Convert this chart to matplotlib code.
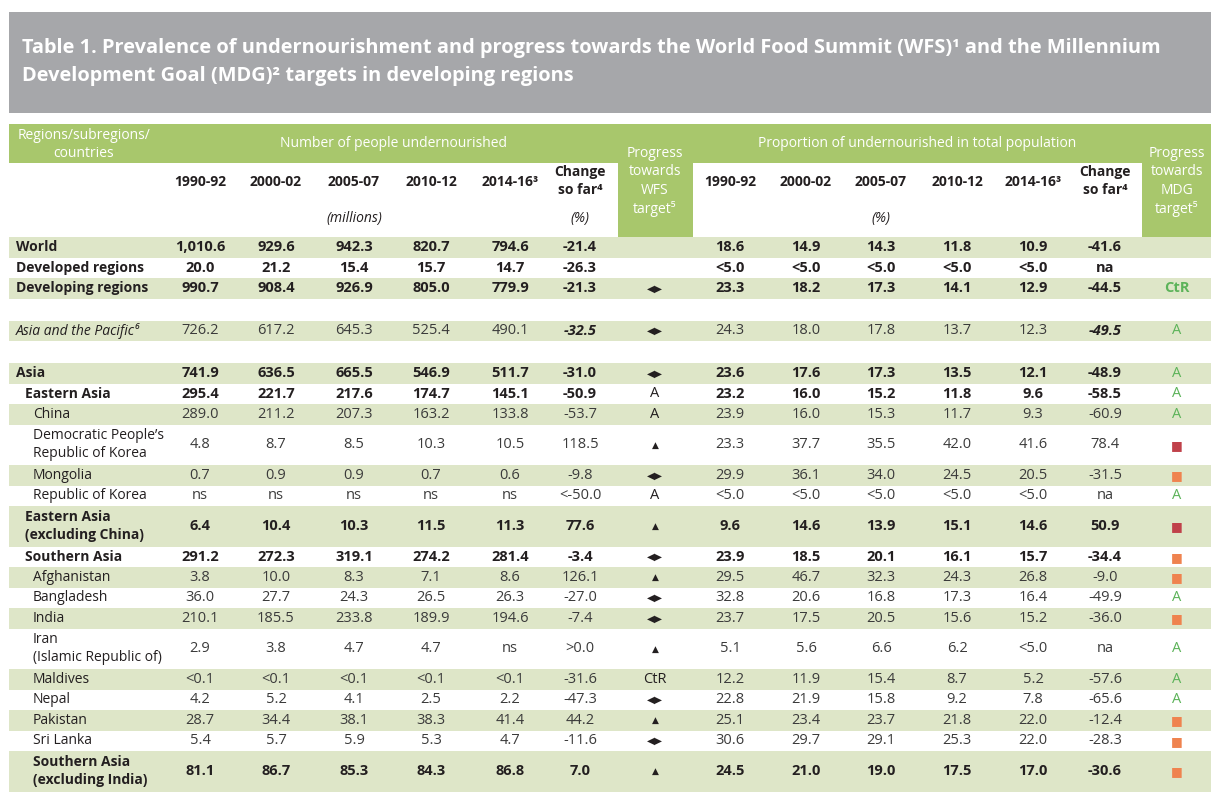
import matplotlib
matplotlib.use('Agg')
import matplotlib.pyplot as plt
from matplotlib.patches import Rectangle

plt.rcParams['font.family'] = ['Open Sans', 'DejaVu Sans']

# ---- data ----
title_lines = ["Table 1. Prevalence of undernourishment and progress towards the World Food Summit (WFS)\u00b9 and the Millennium",
               "Development Goal (MDG)\u00b2 targets in developing regions"]

periods = ["1990-92", "2000-02", "2005-07", "2010-12", "2014-16\u00b3"]

labels = ["World", "Developed regions", "Developing regions", "",
          "Asia and the Pacific\u2076", "",
          "Asia", "Eastern Asia", "China", "Democratic People\u2019s\nRepublic of Korea",
          "Mongolia", "Republic of Korea", "Eastern Asia\n(excluding China)",
          "Southern Asia", "Afghanistan", "Bangladesh", "India",
          "Iran\n(Islamic Republic of)", "Maldives", "Nepal", "Pakistan", "Sri Lanka",
          "Southern Asia\n(excluding India)"]
indent = [0, 0, 0, 0, 0, 0, 0, 1, 2, 2, 2, 2, 1, 1, 2, 2, 2, 2, 2, 2, 2, 2, 2]
bold = [1, 1, 1, 0, 0, 0, 1, 1, 0, 0, 0, 0, 1, 1, 0, 0, 0, 0, 0, 0, 0, 0, 1]

num_9092 = ["1,010.6", "20.0", "990.7", "", "726.2", "", "741.9", "295.4", "289.0", "4.8", "0.7", "ns", "6.4",
            "291.2", "3.8", "36.0", "210.1", "2.9", "<0.1", "4.2", "28.7", "5.4", "81.1"]
num_0002 = ["929.6", "21.2", "908.4", "", "617.2", "", "636.5", "221.7", "211.2", "8.7", "0.9", "ns", "10.4",
            "272.3", "10.0", "27.7", "185.5", "3.8", "<0.1", "5.2", "34.4", "5.7", "86.7"]
num_0507 = ["942.3", "15.4", "926.9", "", "645.3", "", "665.5", "217.6", "207.3", "8.5", "0.9", "ns", "10.3",
            "319.1", "8.3", "24.3", "233.8", "4.7", "<0.1", "4.1", "38.1", "5.9", "85.3"]
num_1012 = ["820.7", "15.7", "805.0", "", "525.4", "", "546.9", "174.7", "163.2", "10.3", "0.7", "ns", "11.5",
            "274.2", "7.1", "26.5", "189.9", "4.7", "<0.1", "2.5", "38.3", "5.3", "84.3"]
num_1416 = ["794.6", "14.7", "779.9", "", "490.1", "", "511.7", "145.1", "133.8", "10.5", "0.6", "ns", "11.3",
            "281.4", "8.6", "26.3", "194.6", "ns", "<0.1", "2.2", "41.4", "4.7", "86.8"]
num_change = ["-21.4", "-26.3", "-21.3", "", "-32.5", "", "-31.0", "-50.9", "-53.7", "118.5", "-9.8", "<-50.0", "77.6",
              "-3.4", "126.1", "-27.0", "-7.4", ">0.0", "-31.6", "-47.3", "44.2", "-11.6", "7.0"]
wfs = ["", "", "LR", "", "LR", "", "LR", "A", "A", "UP", "LR", "A", "UP",
       "LR", "UP", "LR", "LR", "UP", "CtR", "LR", "UP", "LR", "UP"]

pou_9092 = ["18.6", "<5.0", "23.3", "", "24.3", "", "23.6", "23.2", "23.9", "23.3", "29.9", "<5.0", "9.6",
            "23.9", "29.5", "32.8", "23.7", "5.1", "12.2", "22.8", "25.1", "30.6", "24.5"]
pou_0002 = ["14.9", "<5.0", "18.2", "", "18.0", "", "17.6", "16.0", "16.0", "37.7", "36.1", "<5.0", "14.6",
            "18.5", "46.7", "20.6", "17.5", "5.6", "11.9", "21.9", "23.4", "29.7", "21.0"]
pou_0507 = ["14.3", "<5.0", "17.3", "", "17.8", "", "17.3", "15.2", "15.3", "35.5", "34.0", "<5.0", "13.9",
            "20.1", "32.3", "16.8", "20.5", "6.6", "15.4", "15.8", "23.7", "29.1", "19.0"]
pou_1012 = ["11.8", "<5.0", "14.1", "", "13.7", "", "13.5", "11.8", "11.7", "42.0", "24.5", "<5.0", "15.1",
            "16.1", "24.3", "17.3", "15.6", "6.2", "8.7", "9.2", "21.8", "25.3", "17.5"]
pou_1416 = ["10.9", "<5.0", "12.9", "", "12.3", "", "12.1", "9.6", "9.3", "41.6", "20.5", "<5.0", "14.6",
            "15.7", "26.8", "16.4", "15.2", "<5.0", "5.2", "7.8", "22.0", "22.0", "17.0"]
pou_change = ["-41.6", "na", "-44.5", "", "-49.5", "", "-48.9", "-58.5", "-60.9", "78.4", "-31.5", "na", "50.9",
              "-34.4", "-9.0", "-49.9", "-36.0", "na", "-57.6", "-65.6", "-12.4", "-28.3", "-30.6"]
mdg = ["", "", "CtR", "", "A", "", "A", "A", "A", "red", "orange", "A", "red",
       "orange", "orange", "A", "orange", "A", "A", "A", "orange", "orange", "orange"]

# ---- style ----
GRAY = '#a6a7aa'
HGREEN = '#a8c76c'
STRIPE = '#dee6c8'
TXT = '#231f20'
LIGHT = '#3b3b3b'
MGREEN = '#5cb359'
RED = '#c0414a'
ORANGE = '#ef834f'

fig = plt.figure(figsize=(12.2, 7.97), dpi=100)
ax = fig.add_axes([0, 0, 1, 1])
ax.set_xlim(0, 1220)
ax.set_ylim(797, 0)
ax.axis('off')

X0, X1 = 9, 1211
# title
ax.add_patch(Rectangle((X0, 12), X1 - X0, 101, color=GRAY, lw=0))
for i, t in enumerate(title_lines):
    ax.text(22, 48 + i * 28, t, color='white', fontsize=14.4, fontweight='bold', va='center', ha='left')

# header
ax.add_patch(Rectangle((X0, 124), X1 - X0, 39, color=HGREEN, lw=0))
wfs_x0, wfs_x1 = 618, 693
mdg_x0, mdg_x1 = 1142, X1
ax.add_patch(Rectangle((wfs_x0, 124), wfs_x1 - wfs_x0, 113, color=HGREEN, lw=0))
ax.add_patch(Rectangle((mdg_x0, 124), mdg_x1 - mdg_x0, 113, color=HGREEN, lw=0))

hfs = 10
ax.text(84, 135, "Regions/subregions/", color='white', fontsize=hfs, ha='center', va='center')
ax.text(84, 153, "countries", color='white', fontsize=hfs, ha='center', va='center')
ax.text(393, 143, "Number of people undernourished", color='white', fontsize=hfs, ha='center', va='center')
ax.text(917, 143, "Proportion of undernourished in total population", color='white', fontsize=hfs, ha='center', va='center')
for cx, tag in [(655, "WFS"), (1177, "MDG")]:
    for j, w in enumerate(["Progress", "towards", tag, "target\u2075"]):
        ax.text(cx, 153 + j * 18.5, w, color='white', fontsize=hfs, ha='center', va='center')

left_x = [200, 276, 354, 431, 510, 580]
wfs_cx = 655
right_x = [730, 806, 881, 957, 1033, 1105]
mdg_cx = 1177

for xs in (left_x, right_x):
    for cx, p in zip(xs[:5], periods):
        ax.text(cx, 182, p, color=TXT, fontsize=hfs, fontweight='bold', ha='center', va='center')
    ax.text(xs[5], 172, "Change", color=TXT, fontsize=hfs, fontweight='bold', ha='center', va='center')
    ax.text(xs[5], 190, "so far\u2074", color=TXT, fontsize=hfs, fontweight='bold', ha='center', va='center')
ax.text(left_x[2], 218, "(millions)", color=TXT, fontsize=hfs, style='italic', ha='center', va='center')
ax.text(left_x[5], 218, "(%)", color=TXT, fontsize=hfs, style='italic', ha='center', va='center')
ax.text(right_x[2], 218, "(%)", color=TXT, fontsize=hfs, style='italic', ha='center', va='center')

# body
cols_left = [num_9092, num_0002, num_0507, num_1012, num_1416, num_change]
cols_right = [pou_9092, pou_0002, pou_0507, pou_1012, pou_1416, pou_change]
indent_x = [16, 25, 33]
fs = 10
nfs = 10.5
y = 237
for i, lab in enumerate(labels):
    if lab == "":
        h = 22
    elif "\n" in lab:
        h = 40.5
    else:
        h = 20.5
    if i % 2 == 0:
        ax.add_patch(Rectangle((X0, y), X1 - X0, h, color=STRIPE, lw=0))
    cy = y + h / 2
    y += h
    if lab == "":
        continue
    italic_row = lab.startswith("Asia and the Pacific")
    wt = 'bold' if bold[i] else 'normal'
    col = TXT if bold[i] else LIGHT
    lines = lab.split("\n")
    for k, ln in enumerate(lines):
        ly = cy + (k - (len(lines) - 1) / 2) * 18
        ax.text(indent_x[indent[i]], ly, ln, color=TXT, fontsize=fs, fontweight=wt,
                style='italic' if italic_row else 'normal', ha='left', va='center')
    for xs, cols in ((left_x, cols_left), (right_x, cols_right)):
        for j, (cx, c) in enumerate(zip(xs, cols)):
            if italic_row and j == 5:
                ax.text(cx, cy, c[i], color=TXT, fontsize=nfs, fontweight='bold', style='italic',
                        ha='center', va='center')
            else:
                ax.text(cx, cy, c[i], color=col, fontsize=nfs, fontweight=wt, ha='center', va='center')
    w = wfs[i]
    if w == "LR":
        ax.text(wfs_cx, cy + 0.5, "\u25c0\u25b6", fontsize=7.5, color=TXT, ha='center', va='center',
                family='DejaVu Sans')
    elif w == "UP":
        ax.text(wfs_cx, cy + 0.5, "\u25b2", fontsize=6.5, color=TXT, ha='center', va='center',
                family='DejaVu Sans')
    elif w:
        ax.text(wfs_cx, cy, w, fontsize=nfs, color=TXT, ha='center', va='center')
    m = mdg[i]
    if m == "red" or m == "orange":
        ax.text(mdg_cx, cy + 0.5, "\u25a0", fontsize=9, color=RED if m == "red" else ORANGE,
                ha='center', va='center', family='DejaVu Sans')
    elif m == "CtR":
        ax.text(mdg_cx, cy, m, fontsize=nfs, color=MGREEN, fontweight='bold', ha='center', va='center')
    elif m:
        ax.text(mdg_cx, cy, m, fontsize=nfs, color=MGREEN, ha='center', va='center')

fig.savefig('out.png', dpi=100)
